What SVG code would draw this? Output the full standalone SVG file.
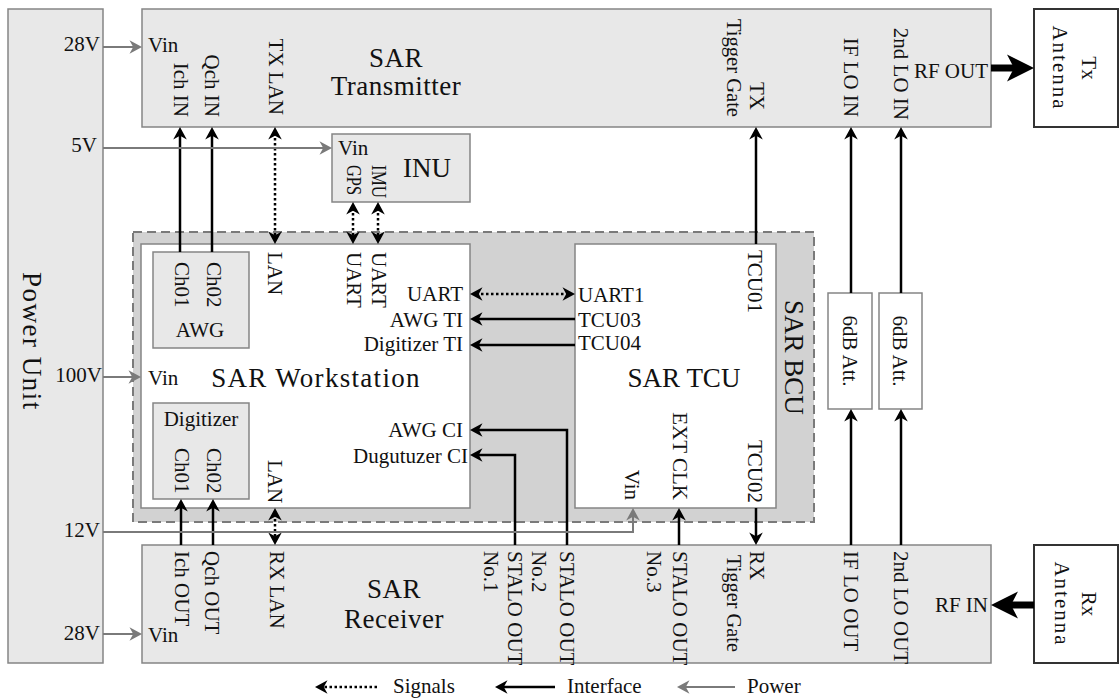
<svg xmlns="http://www.w3.org/2000/svg" width="1120" height="700" viewBox="0 0 1120 700">
<style>
.box{fill:#e8e8e8;stroke:#858585;stroke-width:1.5}
.wbox{fill:#fff;stroke:#858585;stroke-width:1.5}
.ant{fill:#fff;stroke:#333;stroke-width:2}
.bcu{fill:#d2d2d2;stroke:#7a7a7a;stroke-width:2;stroke-dasharray:9 5}
text{font-family:"Liberation Serif","Times New Roman",serif;fill:#111;font-size:21px}
.big{font-size:27px}
.e{text-anchor:end}
.m{text-anchor:middle}
.if{fill:none;stroke:#000;stroke-width:2.5}
.sig{fill:none;stroke:#000;stroke-width:2.5;stroke-dasharray:2.5 2.5}
.pw{fill:none;stroke:#7a7a7a;stroke-width:2}
.rf{fill:none;stroke:#000;stroke-width:7}
</style>
<defs>
<marker id="ah" viewBox="-7 -7 14 14" refX="0" refY="0" markerWidth="14" markerHeight="14" markerUnits="userSpaceOnUse" orient="auto-start-reverse">
<path d="M6,0 L-6.5,-6.8 L-2.8,0 L-6.5,6.8 Z" fill="#000"/>
</marker>
<marker id="ahg" viewBox="-7 -7 14 14" refX="0" refY="0" markerWidth="14" markerHeight="14" markerUnits="userSpaceOnUse" orient="auto">
<path d="M6,0 L-6.5,-6.8 L-2.8,0 L-6.5,6.8 Z" fill="#7a7a7a"/>
</marker>
<marker id="ahb" viewBox="-8 -15 30 30" refX="0" refY="0" markerWidth="30" markerHeight="30" markerUnits="userSpaceOnUse" orient="auto">
<path d="M20,0 L-7,-13.5 L0,0 L-7,13.5 Z" fill="#000"/>
</marker>
</defs>

<g id="power-unit">
<rect class="box" x="8" y="9" width="95" height="654"/>
<text transform="translate(23,272) rotate(90)" class="big" letter-spacing="1.5">Power Unit</text>
<text x="100" y="51" class="e">28V</text>
<text x="97" y="152" class="e">5V</text>
<text x="102" y="382" class="e">100V</text>
<text x="100" y="537" class="e">12V</text>
<text x="100" y="640" class="e">28V</text>
</g>

<g id="sar-bcu">
<rect class="bcu" x="133" y="232" width="681" height="290"/>
<text transform="translate(785,300) rotate(90)" class="big">SAR BCU</text>
</g>

<g id="sar-transmitter">
<rect class="box" x="142" y="9" width="849" height="118"/>
<text x="148" y="52">Vin</text>
<text transform="translate(174,117) rotate(90)" class="e">Ich IN</text>
<text transform="translate(205,117) rotate(90)" class="e">Qch IN</text>
<text transform="translate(269,115) rotate(90)" class="e">TX LAN</text>
<text x="396" y="67" class="big m" letter-spacing="0.5">SAR</text>
<text x="396" y="95" class="big m" letter-spacing="0.5">Transmitter</text>
<text transform="translate(727,117) rotate(90)" class="e" font-size="17" textLength="98" lengthAdjust="spacingAndGlyphs">Tigger Gate</text>
<text transform="translate(750,110) rotate(90)" class="e">TX</text>
<text transform="translate(844,117) rotate(90)" class="e">IF LO IN</text>
<text transform="translate(894,120) rotate(90)" class="e" font-size="22">2nd LO IN</text>
<text x="988" y="78" class="e" font-size="20">RF OUT</text>
</g>

<g id="tx-antenna">
<rect class="ant" x="1034" y="9" width="84" height="118"/>
<text transform="translate(1082,68) rotate(90)" class="m" font-size="26">Tx</text>
<text transform="translate(1053,68) rotate(90)" class="m" font-size="26" letter-spacing="2">Antenna</text>
</g>

<g id="inu">
<rect class="box" x="332" y="134" width="138" height="68"/>
<text x="338" y="155" font-size="18">Vin</text>
<text transform="translate(347,165) rotate(90)" font-size="15" textLength="30" lengthAdjust="spacingAndGlyphs">GPS</text>
<text transform="translate(372,165) rotate(90)" font-size="15" textLength="33" lengthAdjust="spacingAndGlyphs">IMU</text>
<text x="427" y="177" class="big m">INU</text>
</g>

<g id="sar-workstation">
<rect class="wbox" x="141" y="244" width="329" height="264"/>
<text transform="translate(268,252) rotate(90)">LAN</text>
<text transform="translate(347,252) rotate(90)">UART</text>
<text transform="translate(372,252) rotate(90)">UART</text>
<text x="463" y="301" class="e">UART</text>
<text x="463" y="327" class="e">AWG TI</text>
<text x="463" y="351" class="e">Digitizer TI</text>
<text x="148" y="385">Vin</text>
<text x="316" y="387" class="big m" letter-spacing="1.3">SAR Workstation</text>
<text transform="translate(268,460) rotate(90)">LAN</text>
<text x="463" y="437" class="e">AWG CI</text>
<text x="468" y="463" class="e">Dugutuzer CI</text>
</g>

<g id="awg">
<rect class="box" x="153" y="252" width="96" height="96"/>
<text transform="translate(175,262) rotate(90)">Ch01</text>
<text transform="translate(207,262) rotate(90)">Ch02</text>
<text x="200" y="337" class="m">AWG</text>
</g>

<g id="digitizer">
<rect class="box" x="153" y="403" width="96" height="96"/>
<text x="201" y="426" class="m" font-size="20">Digitizer</text>
<text transform="translate(175,448) rotate(90)">Ch01</text>
<text transform="translate(207,448) rotate(90)">Ch02</text>
</g>

<g id="sar-tcu">
<rect class="wbox" x="575" y="244" width="201" height="264"/>
<text transform="translate(748,250) rotate(90)">TCU01</text>
<text x="578" y="302">UART1</text>
<text x="578" y="327">TCU03</text>
<text x="578" y="350">TCU04</text>
<text x="684" y="387" class="big m">SAR TCU</text>
<text transform="translate(625,500) rotate(90)" class="e">Vin</text>
<text transform="translate(673,500) rotate(90)" class="e">EXT CLK</text>
<text transform="translate(748,503) rotate(90)" class="e">TCU02</text>
</g>

<g id="att-1">
<rect class="wbox" x="828" y="293" width="44" height="116"/>
<text transform="translate(843,351) rotate(90)" class="m" font-size="22">6dB Att.</text>
</g>
<g id="att-2">
<rect class="wbox" x="879" y="293" width="43" height="116"/>
<text transform="translate(893,351) rotate(90)" class="m" font-size="22">6dB Att.</text>
</g>

<g id="sar-receiver">
<rect class="box" x="142" y="545" width="849" height="118"/>
<text transform="translate(175,551) rotate(90)">Ich OUT</text>
<text transform="translate(205,551) rotate(90)">Qch OUT</text>
<text transform="translate(270,551) rotate(90)">RX LAN</text>
<text x="148" y="642">Vin</text>
<text x="394" y="598" class="big m" letter-spacing="0.5">SAR</text>
<text x="394" y="628" class="big m" letter-spacing="0.5">Receiver</text>
<text transform="translate(484,551) rotate(90)">No.1</text>
<text transform="translate(508,551) rotate(90)" font-size="20">STALO OUT</text>
<text transform="translate(532,551) rotate(90)">No.2</text>
<text transform="translate(560,551) rotate(90)" font-size="20">STALO OUT</text>
<text transform="translate(647,551) rotate(90)">No.3</text>
<text transform="translate(673,551) rotate(90)" font-size="20">STALO OUT</text>
<text transform="translate(727,555) rotate(90)" font-size="17" textLength="97" lengthAdjust="spacingAndGlyphs">Tigger Gate</text>
<text transform="translate(750,551) rotate(90)">RX</text>
<text transform="translate(844,551) rotate(90)">IF LO OUT</text>
<text transform="translate(894,551) rotate(90)">2nd LO OUT</text>
<text x="988" y="612" class="e">RF IN</text>
</g>

<g id="rx-antenna">
<rect class="ant" x="1034" y="545" width="84" height="118"/>
<text transform="translate(1082,604) rotate(90)" class="m" font-size="26">Rx</text>
<text transform="translate(1055,604) rotate(90)" class="m" font-size="26" letter-spacing="2">Antenna</text>
</g>

<g id="connectors">
<path class="if" d="M180,252 V133" marker-end="url(#ah)"/>
<path class="if" d="M212,252 V133" marker-end="url(#ah)"/>
<path class="sig" d="M275,133 V238" marker-start="url(#ah)" marker-end="url(#ah)"/>
<path class="sig" d="M353,208 V238" marker-start="url(#ah)" marker-end="url(#ah)"/>
<path class="sig" d="M378,208 V238" marker-start="url(#ah)" marker-end="url(#ah)"/>
<path class="sig" d="M476,294 H569" marker-start="url(#ah)" marker-end="url(#ah)"/>
<path class="if" d="M575,319 H476" marker-end="url(#ah)"/>
<path class="if" d="M575,345 H476" marker-end="url(#ah)"/>
<path class="if" d="M756,244 V133" marker-end="url(#ah)"/>
<path class="if" d="M851,293 V133" marker-end="url(#ah)"/>
<path class="if" d="M901,293 V133" marker-end="url(#ah)"/>
<path class="if" d="M851,545 V415" marker-end="url(#ah)"/>
<path class="if" d="M901,545 V415" marker-end="url(#ah)"/>
<path class="if" d="M756,508 V539" marker-end="url(#ah)"/>
<path class="if" d="M679,545 V514" marker-end="url(#ah)"/>
<path class="if" d="M515,545 V455 H476" marker-end="url(#ah)"/>
<path class="if" d="M567,545 V430 H476" marker-end="url(#ah)"/>
<path class="if" d="M181,545 V505" marker-end="url(#ah)"/>
<path class="if" d="M213,545 V505" marker-end="url(#ah)"/>
<path class="sig" d="M275,514 V539" marker-start="url(#ah)" marker-end="url(#ah)"/>
<path class="rf" d="M991,68 H1014" marker-end="url(#ahb)"/>
<path class="rf" d="M1034,605 H1011" marker-end="url(#ahb)"/>
<path class="pw" d="M103,47 H136" marker-end="url(#ahg)"/>
<path class="pw" d="M103,148 H326" marker-end="url(#ahg)"/>
<path class="pw" d="M103,377 H135" marker-end="url(#ahg)"/>
<path class="pw" d="M103,532 H633 V514" marker-end="url(#ahg)"/>
<path class="pw" d="M103,634 H136" marker-end="url(#ahg)"/>
</g>

<g id="legend">
<path class="sig" d="M377,687 H321" marker-end="url(#ah)"/>
<text x="393" y="693">Signals</text>
<path class="if" d="M555,687 H501" marker-end="url(#ah)"/>
<text x="567" y="693">Interface</text>
<path class="pw" d="M735,687 H683" marker-end="url(#ahg)"/>
<text x="747" y="693">Power</text>
</g>
</svg>
